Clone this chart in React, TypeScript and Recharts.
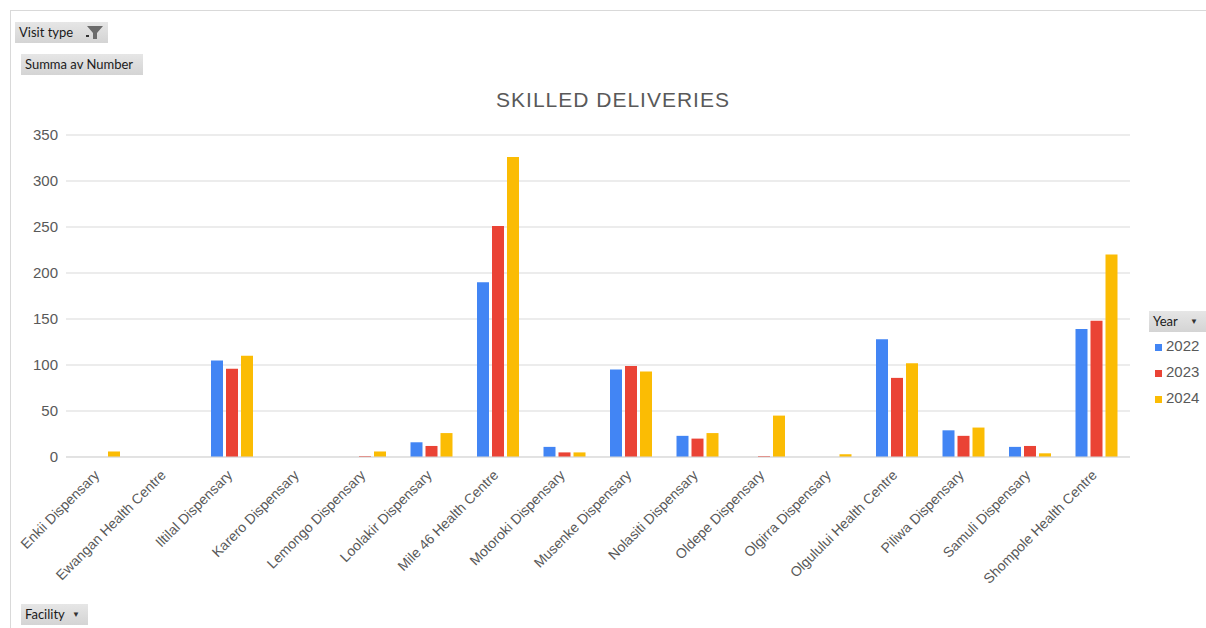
import React from 'react';
import { Bar, BarChart, CartesianGrid, XAxis, YAxis } from 'recharts';

const facilities = [
  'Enkii Dispensary',
  'Ewangan Health Centre',
  'Iltilal Dispensary',
  'Karero Dispensary',
  'Lemongo Dispensary',
  'Loolakir Dispensary',
  'Mile 46 Health Centre',
  'Motoroki Dispensary',
  'Musenke Dispensary',
  'Nolasiti Dispensary',
  'Oldepe Dispensary',
  'Olgirra Dispensary',
  'Olgulului Health Centre',
  'Piliwa Dispensary',
  'Samuli Dispensary',
  'Shompole Health Centre',
];

const y2022 = [null, null, 105, null, null, 16, 190, 11, 95, 23, null, null, 128, 29, 11, 139];
const y2023 = [null, null, 96, null, 1, 12, 251, 5, 99, 20, 1, null, 86, 23, 12, 148];
const y2024 = [6, null, 110, null, 6, 26, 326, 5, 93, 26, 45, 3, 102, 32, 4, 220];

const yTicks = [0, 50, 100, 150, 200, 250, 300, 350];

const SERIES = [
  { key: 'y2022', name: '2022', color: '#4285f4' },
  { key: 'y2023', name: '2023', color: '#ea4335' },
  { key: 'y2024', name: '2024', color: '#fbbc04' },
];

const TEXT = '#595959';
const CHART_FONT = '"Liberation Sans", Arial, sans-serif';
const BTN_FONT = 'Lato, "Open Sans", sans-serif';

const rows = facilities.map((f, i) => ({
  facility: f,
  y2022: y2022[i],
  y2023: y2023[i],
  y2024: y2024[i],
}));

// knappar i pivotdiagrammet
function FieldButton({ label, left, top, width, arrow, filter }: any) {
  return (
    <div
      style={{
        position: 'absolute',
        left,
        top,
        width,
        height: 21,
        background: 'linear-gradient(#e6e6e6, #d4d4d4)',
        fontFamily: BTN_FONT,
        fontSize: 13,
        color: '#1a1a1a',
        lineHeight: '21px',
        paddingLeft: 4,
        boxSizing: 'border-box',
      }}
    >
      {label}
      {arrow && (
        <span style={{ position: 'absolute', right: 8, top: 0, fontSize: 8, color: '#333' }}>▼</span>
      )}
      {filter && (
        <svg style={{ position: 'absolute', right: 4, top: 3 }} width="18" height="15">
          <path d="M1 1 H17 L11 8 V14 H7 V8 Z" fill="#6b6b6b" />
          <rect x="-1" y="10" width="4" height="2" fill="#333" />
        </svg>
      )}
    </div>
  );
}

function XTick({ x, y, payload }: any) {
  return (
    <g transform={`translate(${x + 1},${y + 11})`}>
      <text
        textAnchor="end"
        transform="rotate(-45)"
        fontSize={14}
        fill={TEXT}
        fontFamily={CHART_FONT}
      >
        {payload.value}
      </text>
    </g>
  );
}

export default function App() {
  return (
    <div style={{ position: 'absolute', left: 0, top: 0, width: 1206, height: 628, background: '#fff', overflow: 'hidden' }}>
      {/* ram */}
      <div style={{ position: 'absolute', left: 10, top: 10, width: 1200, height: 630, borderLeft: '1px solid #d9d9d9', borderTop: '1px solid #d9d9d9' }} />

      <div
        style={{
          position: 'absolute',
          left: 0,
          width: 1226,
          top: 88,
          textAlign: 'center',
          fontFamily: CHART_FONT,
          fontSize: 21,
          letterSpacing: 1,
          color: TEXT,
        }}
      >
        SKILLED DELIVERIES
      </div>

      <div style={{ position: 'absolute', left: 0, top: 0 }}>
        <BarChart
          width={1206}
          height={628}
          data={rows}
          margin={{ top: 135, right: 76, bottom: 0, left: 0 }}
          barSize={12}
          barGap={3}
        >
          <CartesianGrid vertical={false} stroke="#d9d9d9" />
          <XAxis
            dataKey="facility"
            interval={0}
            tickLine={false}
            axisLine={{ stroke: '#d9d9d9' }}
            tick={<XTick />}
            height={171}
          />
          <YAxis
            width={66}
            domain={[0, 350]}
            ticks={yTicks}
            interval={0}
            tickLine={false}
            axisLine={false}
            tick={{ fontSize: 15, fill: TEXT, fontFamily: CHART_FONT }}
          />
          {SERIES.map(s => (
            <Bar key={s.key} dataKey={s.key} name={s.name} fill={s.color} isAnimationActive={false} />
          ))}
        </BarChart>
      </div>

      {/* legend */}
      <FieldButton label="Year" left={1149} top={311} width={57} arrow />
      {SERIES.map((s, i) => (
        <div
          key={s.key}
          style={{
            position: 'absolute',
            left: 1155,
            top: 337 + i * 26,
            fontFamily: CHART_FONT,
            fontSize: 15,
            color: TEXT,
            lineHeight: '18px',
          }}
        >
          <span style={{ display: 'inline-block', width: 7, height: 7, background: s.color, marginRight: 4, verticalAlign: 'middle' }} />
          {s.name}
        </div>
      ))}

      <FieldButton label="Visit type" left={15} top={22} width={93} filter />
      <FieldButton label="Summa av Number" left={21} top={54} width={122} />
      <FieldButton label="Facility" left={21} top={604} width={67} arrow />
    </div>
  );
}
